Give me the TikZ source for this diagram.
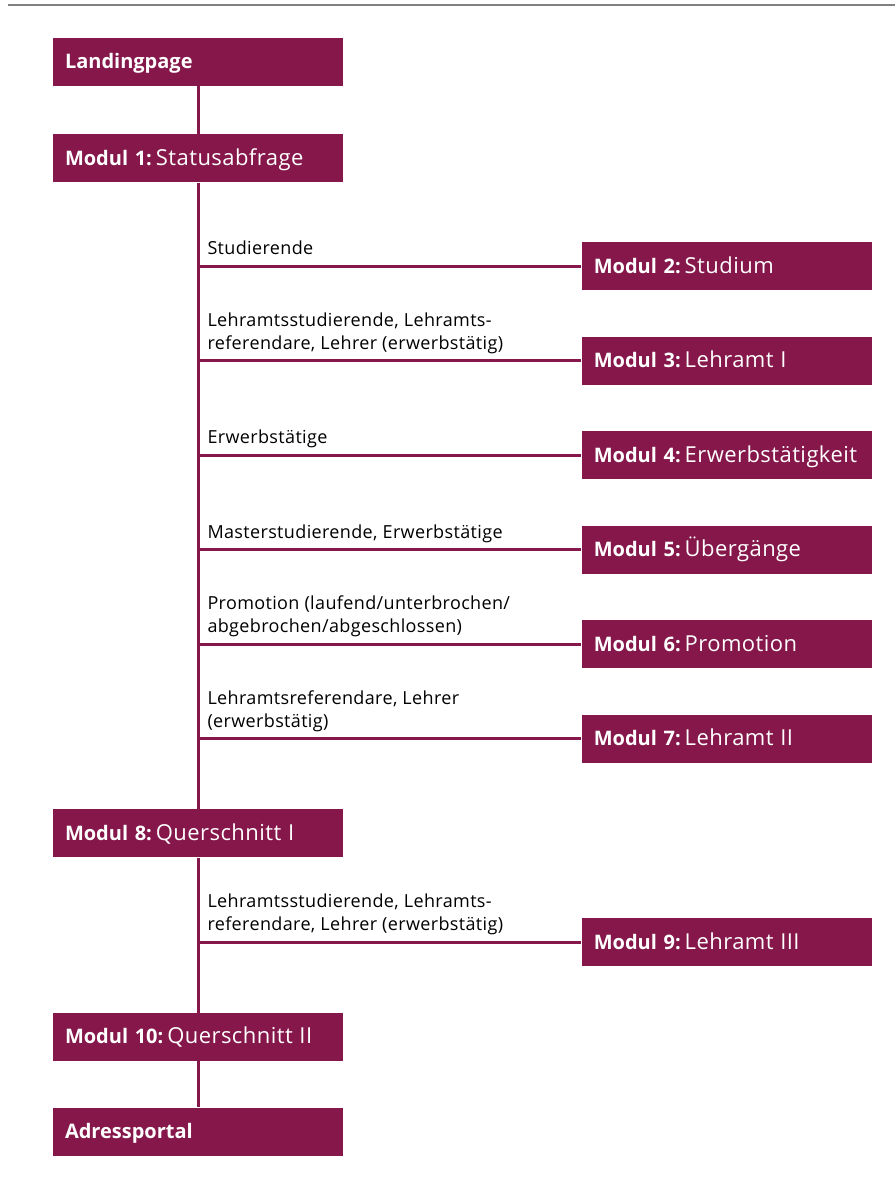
\documentclass[tikz,border=0pt]{standalone}
\usepackage{fontspec}
\setmainfont{Open Sans}
\newfontfamily\widefont[LetterSpace=2]{Open Sans}
\usetikzlibrary{positioning}
\definecolor{modul}{RGB}{133,23,74}
\definecolor{rule}{RGB}{128,128,128}
\newcommand{\modname}[2]{{\bfseries #1}\kern2pt{\widefont\fontsize{11}{13}\selectfont #2}}

\begin{document}
\begin{tikzpicture}[
  node distance=22.85pt,
  modbox/.style={fill=modul, text=white, text width=133pt, inner xsep=6pt,
                 inner ysep=0pt, minimum height=24pt, align=left,
                 text height=7pt, text depth=0pt,
                 font=\fontsize{10}{12}\selectfont},
  cond/.style={anchor=south west, inner sep=0pt, align=left,
               xshift=4pt, yshift=1.55pt, pos=0,
               font=\widefont\fontsize{9}{11.5}\selectfont,
               execute at end node=\strut},
  wire/.style={draw=modul, line width=1.5pt},
]
\useasboundingbox (0,0) rectangle (447.5pt,-590pt);
\draw[rule, line width=1pt] (4pt,-2.25pt) -- (447.5pt,-2.25pt);

% main column
\node[modbox] (lp) at (99pt,-30.75pt) {\bfseries Landingpage};
\node[modbox, below=24pt of lp] (m1) {\modname{Modul 1:}{Statusabfrage}};
\node[modbox, below=313pt of m1] (m8) {\modname{Modul 8:}{Querschnitt I}};
\node[modbox, below=77.5pt of m8] (m10) {\modname{Modul 10:}{Querschnitt II}};
\node[modbox, below=23pt of m10] (ap) {\bfseries Adressportal};

% branches
\node[modbox, below right=29.5pt and 119pt of m1] (m2) {\modname{Modul 2:}{Studium}};
\node[modbox, below=of m2] (m3) {\modname{Modul 3:}{Lehramt I}};
\node[modbox, below=of m3] (m4) {\modname{Modul 4:}{Erwerbstätigkeit}};
\node[modbox, below=of m4] (m5) {\modname{Modul 5:}{Übergänge}};
\node[modbox, below=of m5] (m6) {\modname{Modul 6:}{Promotion}};
\node[modbox, below=of m6] (m7) {\modname{Modul 7:}{Lehramt II}};
\node[modbox, below right=30.25pt and 119pt of m8] (m9) {\modname{Modul 9:}{Lehramt III}};

\draw[wire] (lp) -- (m1) -- (m8) -- (m10) -- (ap);

\draw[wire] (m1.south |- m2) -- node[cond] {Studierende} (m2);
\draw[wire] (m1.south |- m3) -- node[cond]
  {Lehramtsstudierende, Lehramts-\\referendare, Lehrer (erwerbstätig)} (m3);
\draw[wire] (m1.south |- m4) -- node[cond] {Erwerbstätige} (m4);
\draw[wire] (m1.south |- m5) -- node[cond] {Masterstudierende, Erwerbstätige} (m5);
\draw[wire] (m1.south |- m6) -- node[cond]
  {Promotion (laufend/unterbrochen/\\abgebrochen/abgeschlossen)} (m6);
\draw[wire] (m1.south |- m7) -- node[cond]
  {Lehramtsreferendare, Lehrer\\(erwerbstätig)} (m7);
\draw[wire] (m8.south |- m9) -- node[cond]
  {Lehramtsstudierende, Lehramts-\\referendare, Lehrer (erwerbstätig)} (m9);
\end{tikzpicture}
\end{document}
